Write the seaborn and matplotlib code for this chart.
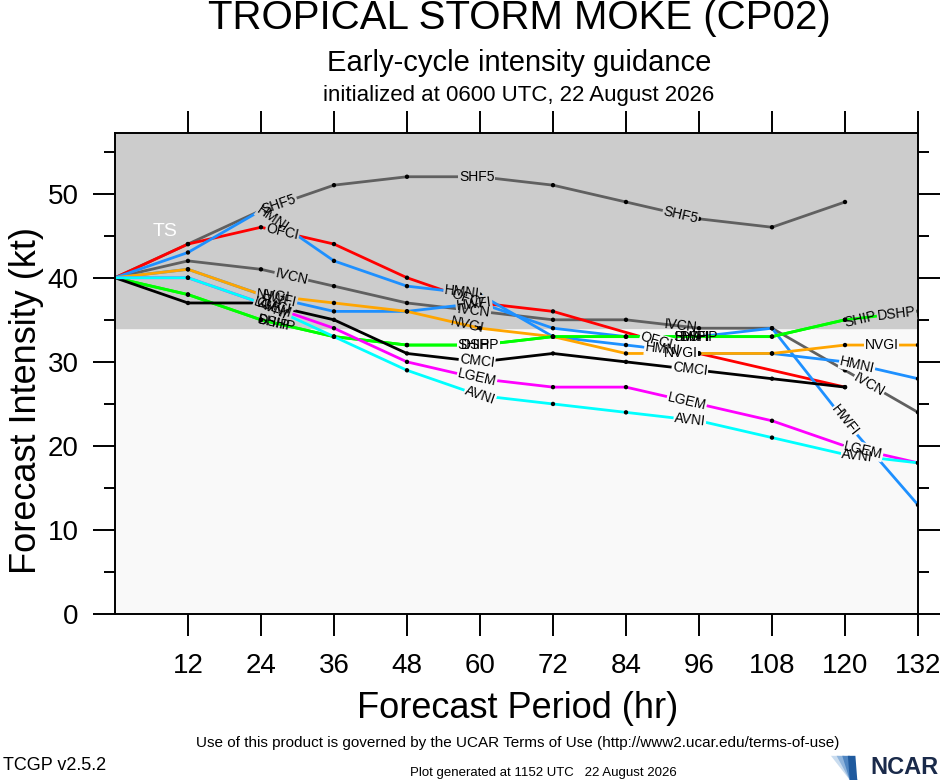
import numpy as np
import pandas as pd
import matplotlib
matplotlib.use("Agg")
import matplotlib.pyplot as plt
from matplotlib.patches import Polygon
import seaborn as sns

# ---- data ----
nan = np.nan
hours = [0, 12, 24, 36, 48, 60, 72, 84, 96, 108, 120, 132]

shf5 = [40, 44, 48, 51, 52, 52, 51, 49, 47, 46, 49, nan]
ofci = [40, 44, 46, 44, 40, 37, 36, nan, 31, nan, 27, nan]
hmni = [40, 43, 48, 42, 39, 38, 33, 32, 31, 31, 30, 28]
hwfi = [40, 41, 38, 36, 36, 37, 34, 33, 33, 34, 23, 13]
ivcn = [40, 42, 41, 39, 37, 36, 35, 35, 34, 34, 29, 24]
nvgi = [40, 41, 38, 37, 36, 34, 33, 31, 31, 31, 32, 32]
ship = [40, 38, 35, 33, 32, 32, 33, 33, 33, 33, 35, nan]
dshp = [40, 38, 35, 33, 32, 32, 33, 33, 33, 33, 35, 36]
cmci = [40, 37, 37, 35, 31, 30, 31, 30, 29, 28, 27, nan]
lgem = [40, 40, 37, 34, 30, 28, 27, 27, 25, 23, 20, 18]
avni = [40, 40, 37, 33, 29, 26, 25, 24, 23, 21, 19, 18]

models = ["SHF5", "IVCN", "OFCI", "HMNI", "HWFI", "NVGI",
          "SHIP", "DSHP", "CMCI", "LGEM", "AVNI"]
series = {"SHF5": shf5, "IVCN": ivcn, "OFCI": ofci, "HMNI": hmni,
          "HWFI": hwfi, "NVGI": nvgi, "SHIP": ship, "DSHP": dshp,
          "CMCI": cmci, "LGEM": lgem, "AVNI": avni}
colors = {"SHF5": "#606060", "IVCN": "#606060", "OFCI": "#ff0000",
          "HMNI": "#1e90ff", "HWFI": "#1e90ff", "NVGI": "#ffa500",
          "SHIP": "#00ff00", "DSHP": "#00ff00", "CMCI": "#000000",
          "LGEM": "#ff00ff", "AVNI": "#00ffff"}
# forecast hours where each model's name is written along its line
label_hours = {"SHF5": [27, 59.5, 93], "IVCN": [29, 59, 93, 124],
               "OFCI": [27.5, 58, 89], "HMNI": [26, 57, 90, 122],
               "HWFI": [27, 59, 95, 120], "NVGI": [26, 58, 93, 126],
               "SHIP": [26, 59, 94.5, 122.5], "DSHP": [26.5, 60, 96, 128.5],
               "CMCI": [26, 59.5, 94.5], "LGEM": [26, 59.5, 94, 123],
               "AVNI": [26, 60, 94.5, 122]}

ts_threshold = 34
ymax = 57.2

rows = []
for m in models:
    for h, v in zip(hours, series[m]):
        if not np.isnan(v):
            rows.append({"model": m, "hour": h, "kt": v})
df = pd.DataFrame(rows)

# ---- figure ----
sns.set_style("ticks")
plt.rcParams["font.family"] = ["Liberation Sans", "DejaVu Sans"]
plt.rcParams["text.color"] = "black"
plt.rcParams["xtick.color"] = "black"
plt.rcParams["ytick.color"] = "black"
plt.rcParams["axes.edgecolor"] = "black"

fig = plt.figure(figsize=(9.4, 7.8), dpi=100)
ax = fig.add_axes([0.1223, 0.2124, 0.8543, 0.6171])

grey_bg = "#cccccc"
light_bg = "#f9f9f9"
ax.axhspan(0, ts_threshold, color=light_bg, zorder=0)
ax.axhspan(ts_threshold, ymax, color=grey_bg, zorder=0)

sns.lineplot(data=df, x="hour", y="kt", hue="model", hue_order=models,
             palette=colors, estimator=None, sort=True, legend=False,
             linewidth=2.0, ax=ax, zorder=2)
sns.scatterplot(data=df[df["hour"] > 0], x="hour", y="kt", color="black",
                s=10, edgecolor="none", legend=False, ax=ax, zorder=2.5)

ax.set_xlim(0, 132)
ax.set_ylim(0, ymax)

# inline labels along each line (the line is cut where its name sits)
for m in models:
    s = df[df["model"] == m]
    hx = s["hour"].to_numpy()
    vy = s["kt"].to_numpy()
    for h in label_hours[m]:
        y = np.interp(h, hx, vy)
        i = min(max(np.searchsorted(hx, h) - 1, 0), len(hx) - 2)
        ang = np.degrees(np.arctan2(vy[i + 1] - vy[i], hx[i + 1] - hx[i]))
        kw = dict(ha="center", va="center", rotation=ang,
                  rotation_mode="anchor", transform_rotates_text=True,
                  fontsize=10)
        if abs(y - ts_threshold) > 1.2:
            bg = grey_bg if y > ts_threshold else light_bg
            ax.text(h, y, m, color="none", zorder=3,
                    bbox=dict(boxstyle="square,pad=0.05", fc=bg, ec="none"),
                    **kw)
        ax.text(h, y, m, color="black", zorder=4, **kw)

ax.text(8.2, 45.5, "TS", color="white", fontsize=14, ha="center",
        va="center", zorder=4)

# axes, ticks
for sp in ax.spines.values():
    sp.set_linewidth(1.4)
    sp.set_visible(True)
ax.set_xticks(np.arange(12, 133, 12))
ax.set_yticks(np.arange(0, 51, 10))
ax.set_yticks(np.arange(5, 56, 10), minor=True)
ax.tick_params(axis="both", which="major", direction="out", length=16,
               width=1.4, labelsize=20, top=True, right=True, pad=10)
ax.tick_params(axis="y", which="minor", direction="out", length=8,
               width=1.4, right=True)
ax.tick_params(axis="x", which="major", pad=12)
ax.set_xlabel("")
ax.set_ylabel("")

fig.text(0.028, 0.487, "Forecast Intensity (kt)", rotation=90, fontsize=26,
         ha="center", va="center")
fig.text(0.551, 0.092, "Forecast Period (hr)", fontsize=26,
         ha="center", va="center")

fig.text(0.552, 0.977, "TROPICAL STORM MOKE (CP02)", fontsize=29,
         ha="center", va="center")
fig.text(0.552, 0.919, "Early-cycle intensity guidance", fontsize=21,
         ha="center", va="center")
fig.text(0.552, 0.877, "initialized at 0600 UTC, 22 August 2026",
         fontsize=16, ha="center", va="center")

fig.text(0.551, 0.047,
         "Use of this product is governed by the UCAR Terms of Use "
         "(http://www2.ucar.edu/terms-of-use)",
         fontsize=11, ha="center", va="center")
fig.text(0.003, 0.018, "TCGP v2.5.2", fontsize=13, ha="left", va="center")
fig.text(0.578, 0.009, "Plot generated at 1152 UTC   22 August 2026",
         fontsize=9.5, ha="center", va="center")

# small NCAR mark: blue swoosh + wordmark
for k, c in enumerate(["#c9dcef", "#8fb4dc", "#4f86c2", "#1f5a9e"]):
    fig.patches.append(Polygon(
        [(0.884 + 0.006 * k, 0.031), (0.892 + 0.006 * k, 0.031),
         (0.912, 0.0), (0.904, 0.0)],
        closed=True, transform=fig.transFigure, fc=c, ec="none"))
fig.text(0.998, 0.016, "NCAR", fontsize=17, fontweight="bold",
         color="#1a2a4a", ha="right", va="center")

fig.savefig("out.png", dpi=100)
